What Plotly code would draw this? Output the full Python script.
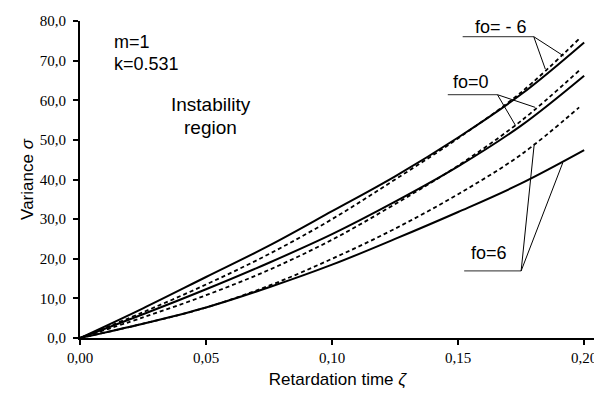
import plotly.graph_objects as go

# Retardation time values (x)
zeta = [0.0, 0.025, 0.05, 0.075, 0.10, 0.125, 0.15, 0.175, 0.20]
zeta_d = [0.0, 0.025, 0.05, 0.075, 0.10, 0.125, 0.15, 0.175, 0.198]

# Variance values
fo_m6_solid = [0, 7.5, 15.4, 23.3, 32.0, 40.8, 50.6, 61.5, 74.6]
fo_m6_dash = [0, 6.5, 13.5, 21.2, 30.0, 40.0, 50.4, 62.0, 75.5]
fo_0_solid = [0, 6.0, 12.3, 19.0, 26.2, 34.4, 43.3, 53.6, 66.2]
fo_0_dash = [0, 5.2, 10.8, 17.2, 24.8, 33.8, 43.5, 54.8, 67.5]
fo_6_solid = [0, 3.6, 7.7, 12.8, 18.5, 25.0, 31.8, 39.0, 47.4]
fo_6_dash = [0, 3.6, 7.7, 13.2, 20.0, 27.6, 36.3, 46.3, 58.2]

y_ticks = [0, 10, 20, 30, 40, 50, 60, 70, 80]
y_tick_text = ["0,0", "10,0", "20,0", "30,0", "40,0", "50,0", "60,0", "70,0", "80,0"]
x_ticks = [0.0, 0.05, 0.10, 0.15, 0.20]
x_tick_text = ["0,00", "0,05", "0,10", "0,15", "0,20"]

fig = go.Figure()

solid = dict(color="black", width=2)
dashed = dict(color="black", width=1.8, dash="4px,3px")

for ys in [fo_m6_solid, fo_0_solid, fo_6_solid]:
    fig.add_trace(go.Scatter(x=zeta, y=ys, mode="lines", line=dict(**solid, shape="spline"),
                             showlegend=False, hoverinfo="skip"))
for ys in [fo_m6_dash, fo_0_dash, fo_6_dash]:
    fig.add_trace(go.Scatter(x=zeta_d, y=ys, mode="lines", line=dict(**dashed, shape="spline"),
                             showlegend=False, hoverinfo="skip"))

# Callout leaders: label, label position, underline start, underline end (apex), targets
callouts = [
    ("fo= - 6", (0.1669, 78.5), (0.1518, 76.05), (0.1800, 76.05), [(0.1918, 71.2), (0.1846, 67.85)]),
    ("fo=0", (0.1551, 64.65), (0.1459, 61.4), (0.1656, 61.4), [(0.1806, 58.2), (0.1728, 53.6)]),
    ("fo=6", (0.1622, 21.4), (0.1524, 16.93), (0.1750, 16.93), [(0.1802, 49.0), (0.1915, 44.2)]),
]
lfont = dict(family="Liberation Sans, Arial, sans-serif", size=18, color="black")
for text, (tx, ty), (ux0, uy), (ux1, _), targets in callouts:
    fig.add_shape(type="line", x0=ux0, y0=uy, x1=ux1, y1=uy, xref="x", yref="y",
                  line=dict(color="#555555", width=1.2))
    for (px, py) in targets:
        fig.add_shape(type="line", x0=ux1, y0=uy, x1=px, y1=py, xref="x", yref="y",
                      line=dict(color="black", width=1))
    fig.add_annotation(x=tx, y=ty, text=text, showarrow=False, xref="x", yref="y",
                       font=lfont, xanchor="center", yanchor="middle")

fig.add_annotation(x=0.0128, y=74.8, text="m=1", showarrow=False, xanchor="left",
                   yanchor="middle", font=lfont)
fig.add_annotation(x=0.0128, y=69.2, text="k=0.531", showarrow=False, xanchor="left",
                   yanchor="middle", font=lfont)
fig.add_annotation(x=0.0518, y=59.0, text="Instability", showarrow=False, xanchor="center",
                   yanchor="middle", font=dict(lfont, size=19))
fig.add_annotation(x=0.0518, y=53.0, text="region", showarrow=False, xanchor="center",
                   yanchor="middle", font=dict(lfont, size=19))

tickfont = dict(family="Liberation Serif, Times New Roman, serif", size=15, color="black")
titlefont = dict(family="Liberation Sans, Arial, sans-serif", size=17, color="black")

fig.update_xaxes(range=[0, 0.2043], tickvals=x_ticks, ticktext=x_tick_text, tickfont=tickfont,
                 showline=True, linecolor="black", linewidth=2, ticks="outside", ticklen=5,
                 tickwidth=2, tickcolor="black", showgrid=False, zeroline=False,
                 title=dict(text="Retardation time <i>ζ</i>", font=titlefont, standoff=8))
fig.update_yaxes(range=[0, 80], tickvals=y_ticks, ticktext=y_tick_text, tickfont=tickfont,
                 showline=True, linecolor="black", linewidth=2, ticks="outside", ticklen=5,
                 tickwidth=2, tickcolor="black", showgrid=False, zeroline=False,
                 ticklabelstandoff=4,
                 title=dict(text="Variance <i>σ</i>", font=titlefont, standoff=2))

# page body has an 8px margin: size the figure so the plot area lands where the reference has it
fig.update_layout(width=594, height=392, margin=dict(l=72, r=5, t=12, b=62),
                  plot_bgcolor="white", paper_bgcolor="white")

fig.write_html("out.html")
